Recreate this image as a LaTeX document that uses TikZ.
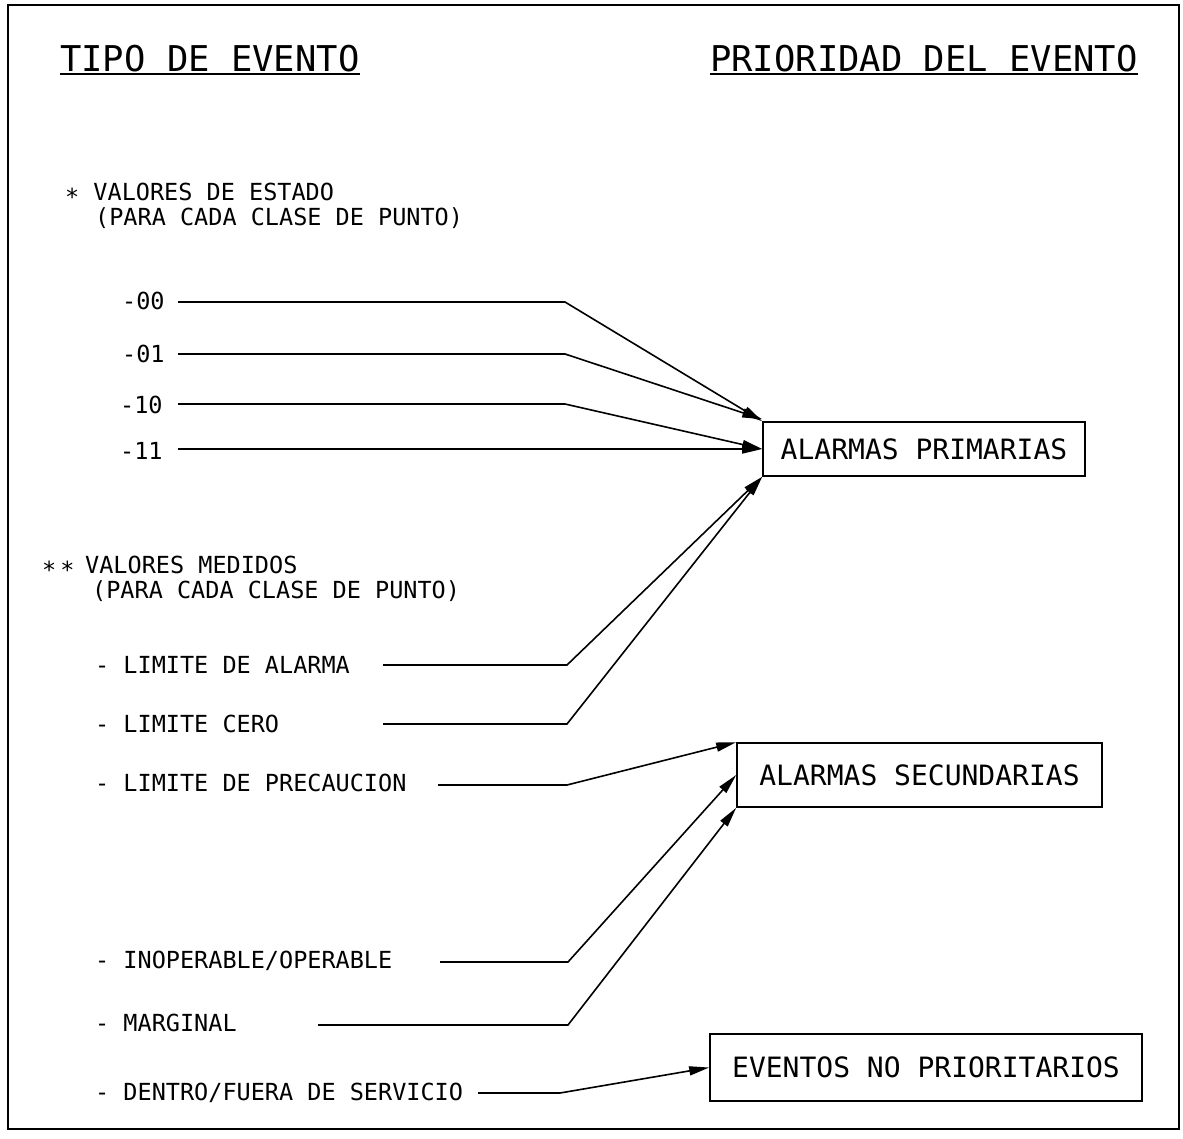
\documentclass[tikz,border=0pt]{standalone}
\usepackage{fontspec}
\setmonofont{DejaVu Sans Mono}
\usetikzlibrary{arrows.meta}
\begin{document}
\begin{tikzpicture}[x=1pt,y=-1pt,
  lbl/.style={anchor=base west, inner sep=0pt, font=\ttfamily\fontsize{23.5}{23.5}\selectfont},
  ttl/.style={anchor=base west, inner sep=0pt, font=\ttfamily\fontsize{35.5}{35.5}\selectfont},
  prio/.style={draw, line width=1.6pt, inner sep=0pt, font=\ttfamily\fontsize{28}{28}\selectfont},
  link/.style={line width=1.6pt, -{Triangle[length=20pt,width=9pt]}},
  plain/.style={line width=1.5pt}
]
\useasboundingbox (0,0) rectangle (1183,1138);
\draw[line width=2.4pt] (8,5) rectangle (1179,1129);

% column headings
\node[ttl] (hleft) at (60,71) {TIPO DE EVENTO};
\node[ttl] (hright) at (710,71) {PRIORIDAD DEL EVENTO};
\draw[plain] ([yshift=-3pt]hleft.base west) -- ([yshift=-3pt]hleft.base east);
\draw[plain] ([yshift=-3pt]hright.base west) -- ([yshift=-3pt]hright.base east);

% priority boxes
\node[prio, minimum width=322pt, minimum height=54pt] (prim) at (924,449) {ALARMAS PRIMARIAS};
\node[prio, minimum width=365pt, minimum height=64pt] (sec) at (919.5,775) {ALARMAS SECUNDARIAS};
\node[prio, minimum width=432pt, minimum height=67pt] (nopr) at (926,1067.5) {EVENTOS NO PRIORITARIOS};

% status values
\node[lbl] (est) at (65,200) {\raisebox{-5pt}{*} VALORES DE ESTADO};
\node[lbl] (est2) at (95,225) {(PARA CADA CLASE DE PUNTO)};
\node[lbl] (v00) at (122,309) {-00};
\node[lbl] (v01) at (122,362) {-01};
\node[lbl] (v10) at (120,413) {-10};
\node[lbl] (v11) at (120,459) {-11};

% measured values
\node[lbl] (ast) at (42,573) {\raisebox{-5pt}{*}\hspace{4pt}\raisebox{-5pt}{*}};
\node[lbl] (med) at (85,573) {VALORES MEDIDOS};
\node[lbl] (med2) at (92,598) {(PARA CADA CLASE DE PUNTO)};
\node[lbl] (lal) at (95,673) {- LIMITE DE ALARMA};
\node[lbl] (lce) at (95,732) {- LIMITE CERO};
\node[lbl] (lpr) at (95,791) {- LIMITE DE PRECAUCION};
\node[lbl] (ino) at (95,968) {- INOPERABLE/OPERABLE};
\node[lbl] (mar) at (95,1031) {- MARGINAL};
\node[lbl] (den) at (95,1100) {- DENTRO/FUERA DE SERVICIO};

% connector start and bend points
\coordinate (s00) at (178,302); \coordinate (b00) at (565,302);
\coordinate (s01) at (178,354); \coordinate (b01) at (565,354);
\coordinate (s10) at (178,404); \coordinate (b10) at (565,404);
\coordinate (s11) at (178,449);
\coordinate (sal) at (383,665); \coordinate (bal) at (567,665);
\coordinate (sce) at (383,724); \coordinate (bce) at (567,724);
\coordinate (spr) at (438,785); \coordinate (bpr) at (567,785);
\coordinate (sin) at (440,962); \coordinate (bin) at (568,962);
\coordinate (sma) at (318,1025); \coordinate (bma) at (568,1025);
\coordinate (sde) at (478,1093); \coordinate (bde) at (560,1093);

\draw[link] (s00) -- (b00) -- (prim.north west);
\draw[link] (s01) -- (b01) -- ([yshift=2pt]prim.north west);
\draw[link] (s10) -- (b10) -- (prim.west);
\draw[link] (s11) -- (prim.west);
\draw[link] (sal) -- (bal) -- (prim.south west);
\draw[link] (sce) -- (bce) -- (prim.south west);
\draw[link] (spr) -- (bpr) -- (sec.north west);
\draw[link] (sin) -- (bin) -- (sec.west);
\draw[link] (sma) -- (bma) -- (sec.south west);
\draw[link] (sde) -- (bde) -- (nopr.west);
\end{tikzpicture}
\end{document}
